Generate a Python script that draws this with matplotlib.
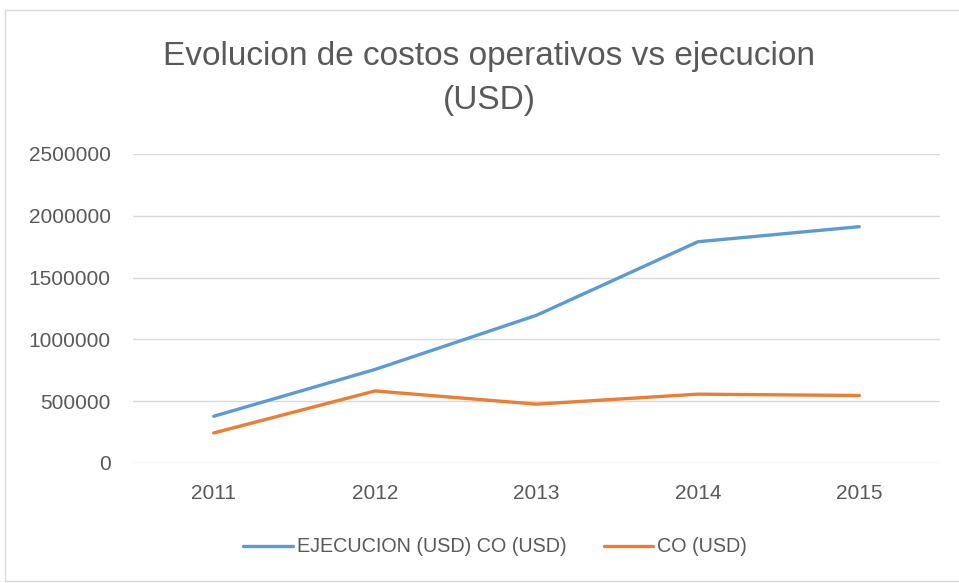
import matplotlib
matplotlib.use("Agg")
import matplotlib.pyplot as plt
from matplotlib.patches import Rectangle

# ── data ──────────────────────────────────────────────────────────────────────
years = ["2011", "2012", "2013", "2014", "2015"]
ejecucion = [378000, 757000, 1195000, 1790000, 1912000]
costos_op = [243000, 583000, 476000, 557000, 546000]
yticks = [0, 500000, 1000000, 1500000, 2000000, 2500000]

BLUE, ORANGE, GREY, GRID = "#5B9BD5", "#ED7D31", "#595959", "#D9D9D9"
plt.rcParams["font.family"] = ["Liberation Sans", "DejaVu Sans"]

W, H = 959, 583
fig = plt.figure(figsize=(W / 100, H / 100), dpi=100)
fig.patches.append(Rectangle((5 / W, 2 / H), (W - 4) / W, (H - 12) / H, transform=fig.transFigure,
                             fill=False, edgecolor=GRID, lw=1))

# plot area in pixel coords: x 133..940, y 154..463 (from top)
ax = fig.add_axes([133 / W, 1 - 463 / H, (940 - 133) / W, (463 - 154) / H])
x = range(len(years))
ax.plot(x, ejecucion, color=BLUE, lw=2.4, solid_capstyle="round", label="EJECUCION (USD) CO (USD)")
ax.plot(x, costos_op, color=ORANGE, lw=2.4, solid_capstyle="round", label="CO (USD)")

ax.set_xlim(-0.5, len(years) - 0.5)
ax.set_ylim(0, 2500000)
ax.set_xticks(list(x), years)
ax.set_yticks(yticks, [str(v) for v in yticks])
ax.grid(axis="y", color=GRID, lw=1)
ax.set_axisbelow(True)
for s in ax.spines.values():
    s.set_visible(False)
ax.tick_params(length=0, colors=GREY, labelsize=15)
ax.tick_params(axis="y", pad=16)
ax.tick_params(axis="x", pad=15)

fig.text(489 / W, 1 - 56 / H, "Evolucion de costos operativos vs ejecucion", ha="center", va="center",
         fontsize=24, color=GREY)
fig.text(489 / W, 1 - 101 / H, "(USD)", ha="center", va="center", fontsize=24, color=GREY)

fig.legend(loc="center", bbox_to_anchor=(495 / W, 1 - 547 / H), ncol=2, frameon=False,
           fontsize=14.2, labelcolor=GREY, handlelength=2.5, handletextpad=0.2, columnspacing=1.9)

fig.savefig("out.png", dpi=100)
